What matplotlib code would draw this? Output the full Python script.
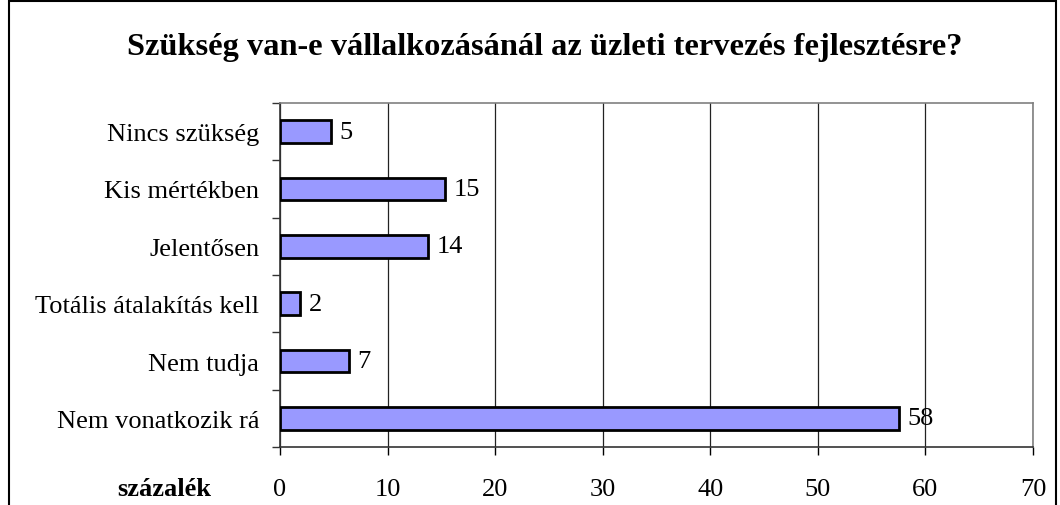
import matplotlib
matplotlib.use("Agg")
import matplotlib.pyplot as plt
from matplotlib.patches import Rectangle
import numpy as np

categories = ["Nincs szükség", "Kis mértékben", "Jelentősen",
              "Totális átalakítás kell", "Nem tudja", "Nem vonatkozik rá"]
values = [4.7, 15.3, 13.8, 1.9, 6.4, 57.5]
value_labels = ["5", "15", "14", "2", "7", "58"]
xticks = [0, 10, 20, 30, 40, 50, 60, 70]
title = "Szükség van-e vállalkozásánál az üzleti tervezés fejlesztésre?"
xlabel = "százalék"

plt.rcParams['font.family'] = ['Liberation Serif', 'DejaVu Serif']

FS = 19
fig = plt.figure(figsize=(10.6, 5.06), dpi=100)
W, H = 1060, 506
ax = fig.add_axes([280 / W, 1 - 448 / H, (1033 - 280) / W, (448 - 104) / H])

n = len(categories)
y = np.arange(n)
ax.barh(y, values, height=0.4, color="#9999FF", edgecolor="black", linewidth=2, zorder=3)
for yi, v, lab in zip(y, values, value_labels):
    ax.text(v + 0.8, yi, lab, va="center", ha="left", fontsize=FS, zorder=4)

ax.set_xlim(0, 70)
ax.set_ylim(n - 0.5, -0.5)
ax.set_xticks(xticks)
ax.set_xticklabels([str(t) for t in xticks], fontsize=FS)
ax.set_yticks(y)
ax.set_yticklabels(categories, fontsize=FS)
ax.tick_params(axis="y", length=0, pad=15)
ax.tick_params(axis="x", length=6, width=1, direction="out", pad=16, color="black")
# category boundary ticks on left spine
ax.set_yticks(np.arange(-0.5, n, 1), minor=True)
ax.tick_params(axis="y", which="minor", length=6, width=1, direction="out", color="#333333")

ax.grid(axis="x", color="#222222", linewidth=0.9, zorder=0)
ax.set_axisbelow(True)
for s in ["top", "right"]:
    ax.spines[s].set_color("#808080")
    ax.spines[s].set_linewidth(1.2)
for s in ["left", "bottom"]:
    ax.spines[s].set_color("#333333")
    ax.spines[s].set_linewidth(1.2)

fig.text(545 / W, 1 - 48 / H, title, ha="center", va="center", fontsize=23.3, fontweight="bold")
fig.text(164 / W, 1 - 490 / H, xlabel, ha="center", va="center", fontsize=FS, fontweight="bold")

fig.patches.append(Rectangle((9 / W, -0.05), (1056 - 9) / W, 1.05 - 2 / H,
                             transform=fig.transFigure, fill=False,
                             edgecolor="black", linewidth=1.5))

fig.savefig("out.png", dpi=100, facecolor="white")
